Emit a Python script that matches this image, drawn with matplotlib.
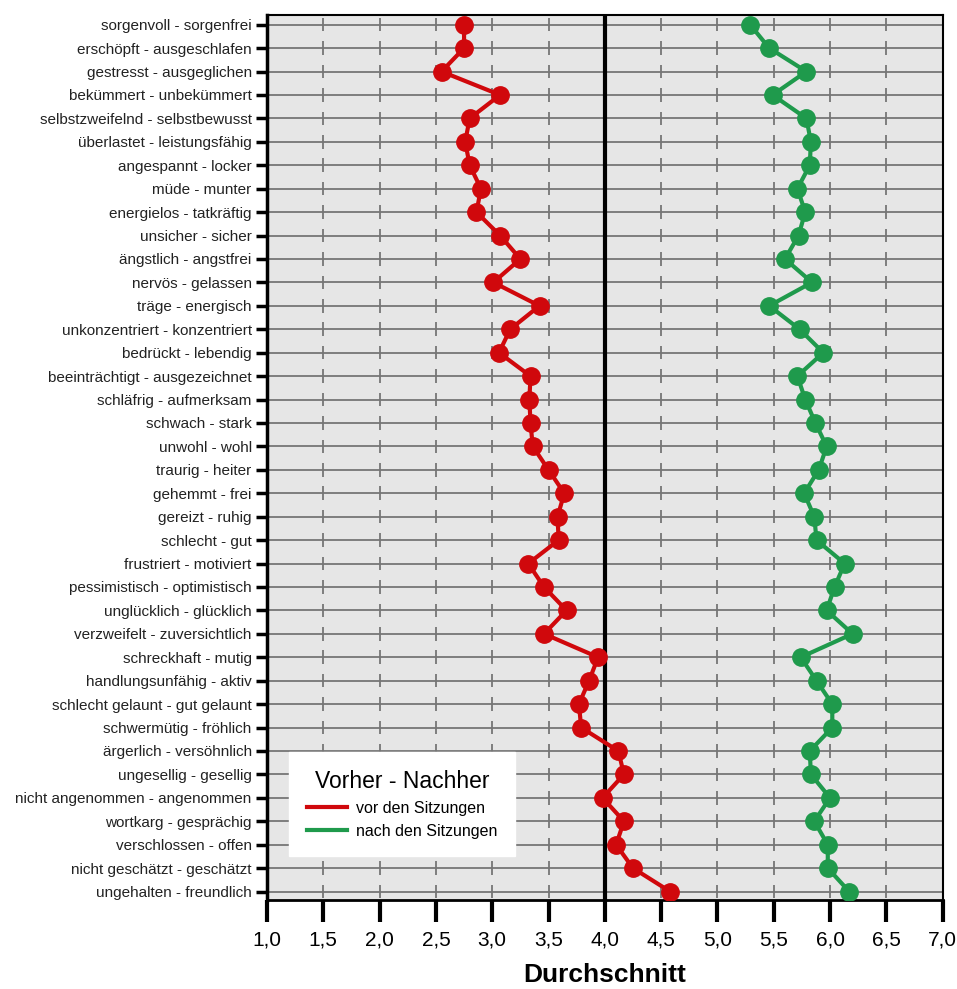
import matplotlib
matplotlib.use("Agg")
import matplotlib.pyplot as plt
import numpy as np

plt.rcParams['font.family'] = ['Liberation Sans', 'DejaVu Sans']

labels = ["sorgenvoll - sorgenfrei", "erschöpft - ausgeschlafen", "gestresst - ausgeglichen",
          "bekümmert - unbekümmert", "selbstzweifelnd - selbstbewusst", "überlastet - leistungsfähig",
          "angespannt - locker", "müde - munter", "energielos - tatkräftig", "unsicher - sicher",
          "ängstlich - angstfrei", "nervös - gelassen", "träge - energisch",
          "unkonzentriert - konzentriert", "bedrückt - lebendig", "beeinträchtigt - ausgezeichnet",
          "schläfrig - aufmerksam", "schwach - stark", "unwohl - wohl", "traurig - heiter",
          "gehemmt - frei", "gereizt - ruhig", "schlecht - gut", "frustriert - motiviert",
          "pessimistisch - optimistisch", "unglücklich - glücklich", "verzweifelt - zuversichtlich",
          "schreckhaft - mutig", "handlungsunfähig - aktiv", "schlecht gelaunt - gut gelaunt",
          "schwermütig - fröhlich", "ärgerlich - versöhnlich", "ungesellig - gesellig",
          "nicht angenommen - angenommen", "wortkarg - gesprächig", "verschlossen - offen",
          "nicht geschätzt - geschätzt", "ungehalten - freundlich"]

vorher = [2.75, 2.75, 2.55, 3.07, 2.80, 2.76, 2.80, 2.90, 2.86, 3.07, 3.25, 3.01, 3.42,
          3.16, 3.06, 3.34, 3.33, 3.34, 3.36, 3.50, 3.64, 3.58, 3.59, 3.32, 3.46, 3.66,
          3.46, 3.94, 3.86, 3.77, 3.79, 4.12, 4.17, 3.98, 4.17, 4.10, 4.25, 4.58]

nachher = [5.29, 5.46, 5.79, 5.49, 5.79, 5.83, 5.82, 5.71, 5.78, 5.72, 5.60, 5.84, 5.46,
           5.73, 5.94, 5.71, 5.78, 5.87, 5.97, 5.90, 5.77, 5.86, 5.88, 6.13, 6.04, 5.97,
           6.20, 5.74, 5.88, 6.02, 6.02, 5.82, 5.83, 6.00, 5.86, 5.98, 5.98, 6.17]

xticks = [1.0, 1.5, 2.0, 2.5, 3.0, 3.5, 4.0, 4.5, 5.0, 5.5, 6.0, 6.5, 7.0]

red = '#d0080c'
green = '#1f9a4c'

fig = plt.figure(figsize=(9.57, 9.89), dpi=100)
ax = fig.add_axes([0.279, 0.09, 0.706, 0.895])
ax.set_facecolor('#e6e6e6')

rows = np.arange(len(labels))

# horizontal lines at each row
for r in rows:
    ax.axhline(r, color='#767676', lw=1.3, zorder=1)

# short dashed vertical grid, one dash per row
for x in xticks[1:-1]:
    if x == 4.0:
        continue
    ax.vlines([x] * len(rows), rows - 0.29, rows + 0.29, color='#767676', lw=1.3, zorder=1)

ax.axvline(4.0, color='black', lw=3, zorder=2)

ax.plot(vorher, rows, '-o', color=red, lw=3, markersize=12.5, label='vor den Sitzungen', zorder=3)
ax.plot(nachher, rows, '-o', color=green, lw=3, markersize=12.5, label='nach den Sitzungen', zorder=3)

ax.set_xlim(1, 7)
ax.set_ylim(len(labels) - 1 + 0.36, -0.42)
ax.set_yticks(rows)
ax.set_yticklabels(labels, fontsize=11, color='#222222')
ax.set_xticks(xticks)
ax.set_xticklabels([f'{v:.1f}'.replace('.', ',') for v in xticks], fontsize=15)
ax.tick_params(axis='y', length=8, width=2.5, pad=3)
ax.tick_params(axis='x', length=16, width=3, pad=6)

for s in ax.spines.values():
    s.set_linewidth(1.5)
ax.spines['left'].set_linewidth(2.5)
ax.spines['bottom'].set_linewidth(2)

ax.set_xlabel('Durchschnitt', fontsize=19, fontweight='bold', labelpad=10)

leg = ax.legend(title='Vorher - Nachher', loc='upper left',
                bbox_to_anchor=(289 / 957, 1 - 752 / 989), bbox_transform=fig.transFigure,
                borderaxespad=0, fontsize=11.5, title_fontsize=16.5, frameon=True, fancybox=False,
                handlelength=2.5, borderpad=1.1, labelspacing=0.5, handletextpad=0.6)
leg.get_frame().set_edgecolor('white')
leg.get_frame().set_facecolor('white')
leg.get_frame().set_alpha(1)
leg._legend_box.align = 'center'
for line in leg.get_lines():
    line.set_marker('')
    line.set_linewidth(3)

fig.savefig('out.png', dpi=100)
